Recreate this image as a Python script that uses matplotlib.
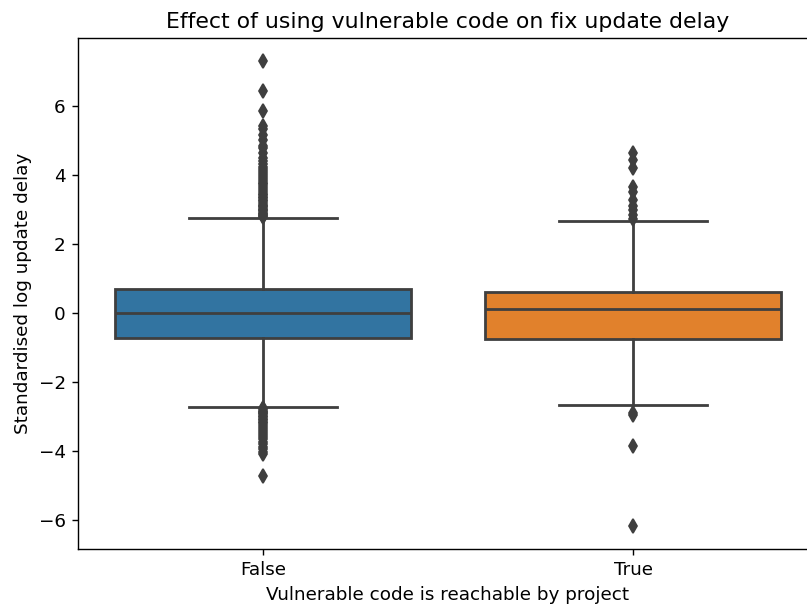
import matplotlib
matplotlib.use("Agg")
import matplotlib.pyplot as plt

plt.rcParams["font.size"] = 10.5
plt.rcParams["axes.titlesize"] = 12.6

groups = ["False", "True"]
box_colors = ["#3274a1", "#e1812c"]

# quartiles and whisker ends per group
medians = [-0.01, 0.13]
q1s = [-0.71, -0.74]
q3s = [0.69, 0.62]
whis_lo = [-2.73, -2.67]
whis_hi = [2.76, 2.67]

# outliers, not reachable
fliers_false = [
    7.31, 6.44, 5.86, 5.43, 5.33, 5.17, 5.03, 4.86, 4.78, 4.65, 4.51, 4.42,
    4.34, 4.25, 4.19, 4.12, 4.06, 4.01, 3.95, 3.90, 3.84, 3.79, 3.74, 3.68,
    3.63, 3.58, 3.52, 3.47, 3.42, 3.38, 3.33, 3.29, 3.24, 3.20, 3.15, 3.11,
    3.07, 3.03, 2.99, 2.95, 2.91, 2.88, 2.84, 2.81, 2.78,
    -2.76, -2.79, -2.83, -2.86, -2.90, -2.94, -2.98, -3.02, -3.06, -3.11,
    -3.15, -3.20, -3.25, -3.30, -3.35, -3.41, -3.47, -3.53, -3.60, -3.66,
    -3.73, -3.80, -3.88, -3.95, -4.03, -4.10, -4.72,
]
# outliers, reachable
fliers_true = [
    4.65, 4.45, 4.20, 3.66, 3.51, 3.28, 3.11, 2.99, 2.85, 2.74,
    -2.90, -2.97, -3.86, -6.17,
]
fliers = [fliers_false, fliers_true]

stats = []
for i, name in enumerate(groups):
    stats.append({
        "label": name,
        "med": medians[i],
        "q1": q1s[i],
        "q3": q3s[i],
        "whislo": whis_lo[i],
        "whishi": whis_hi[i],
        "fliers": fliers[i],
    })

gray = "#3f3f3f"
lw = 1.6
fig = plt.figure(figsize=(807 / 126, 608 / 126), dpi=126)
ax = fig.add_axes([78 / 807, 1 - 549 / 608, 740 / 807, 511 / 608])

bp = ax.bxp(
    stats,
    positions=[0, 1],
    widths=0.8,
    patch_artist=True,
    boxprops=dict(edgecolor=gray, linewidth=lw),
    whiskerprops=dict(color=gray, linewidth=lw),
    capprops=dict(color=gray, linewidth=lw),
    medianprops=dict(color=gray, linewidth=lw),
    flierprops=dict(marker="d", markersize=5.3, markerfacecolor=gray,
                    markeredgecolor=gray, linestyle="none"),
)
for patch, c in zip(bp["boxes"], box_colors):
    patch.set_facecolor(c)

ax.set_xlim(-0.5, 1.5)
ax.set_xticks([0, 1])
ax.set_xticklabels(groups)
ax.set_yticks([-6, -4, -2, 0, 2, 4, 6])
ax.set_xlabel("Vulnerable code is reachable by project")
ax.set_ylabel("Standardised log update delay")
ax.set_title("Effect of using vulnerable code on fix update delay")

fig.savefig("out.png", dpi=126)
